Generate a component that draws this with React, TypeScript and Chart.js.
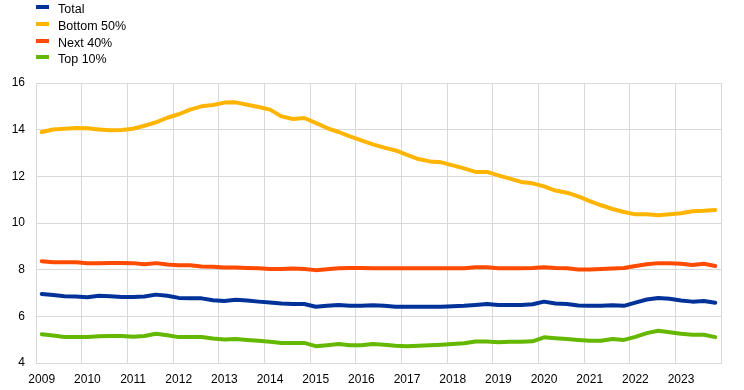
import React, { useEffect, useRef } from "react";
import { Chart, registerables } from "chart.js";

Chart.register(...registerables);

const years = [2009, 2010, 2011, 2012, 2013, 2014, 2015, 2016, 2017, 2018, 2019, 2020, 2021, 2022, 2023];
const quarters = ["Q1", "Q2", "Q3", "Q4"];
const categories: string[] = [];
years.forEach((y) => quarters.forEach((q) => categories.push(`${y}${q}`)));

const total = [
  6.96, 6.91, 6.86, 6.85, 6.82, 6.88, 6.86, 6.83, 6.83, 6.85,
  6.93, 6.88, 6.79, 6.78, 6.77, 6.69, 6.66, 6.71, 6.68, 6.63,
  6.59, 6.55, 6.53, 6.53, 6.41, 6.45, 6.49, 6.45, 6.45, 6.48,
  6.45, 6.41, 6.41, 6.41, 6.41, 6.41, 6.43, 6.45, 6.49, 6.53,
  6.49, 6.49, 6.49, 6.52, 6.63, 6.55, 6.53, 6.46, 6.45, 6.45,
  6.48, 6.45, 6.59, 6.72, 6.79, 6.75, 6.68, 6.63, 6.66, 6.58,
];
const bottom50 = [
  13.9, 14.01, 14.04, 14.07, 14.06, 14.01, 13.97, 13.99, 14.04, 14.17,
  14.31, 14.51, 14.66, 14.86, 15.0, 15.06, 15.16, 15.17, 15.07, 14.97,
  14.86, 14.57, 14.46, 14.5, 14.29, 14.07, 13.9, 13.71, 13.54, 13.37,
  13.23, 13.11, 12.92, 12.74, 12.64, 12.6, 12.47, 12.34, 12.19, 12.19,
  12.04, 11.9, 11.76, 11.7, 11.57, 11.39, 11.3, 11.14, 10.94, 10.76,
  10.6, 10.47, 10.37, 10.37, 10.33, 10.37, 10.42, 10.5, 10.52, 10.56,
];
const next40 = [
  8.36, 8.32, 8.32, 8.32, 8.28, 8.28, 8.29, 8.29, 8.28, 8.23,
  8.28, 8.22, 8.19, 8.19, 8.14, 8.13, 8.09, 8.09, 8.07, 8.06,
  8.03, 8.03, 8.05, 8.03, 7.98, 8.02, 8.06, 8.07, 8.07, 8.06,
  8.06, 8.06, 8.06, 8.06, 8.06, 8.06, 8.06, 8.06, 8.1, 8.1,
  8.06, 8.06, 8.06, 8.07, 8.1, 8.07, 8.06, 8.01, 8.01, 8.03,
  8.05, 8.07, 8.16, 8.23, 8.28, 8.28, 8.25, 8.2, 8.25, 8.16,
];
const top10 = [
  5.23, 5.18, 5.11, 5.11, 5.11, 5.15, 5.16, 5.16, 5.12, 5.16,
  5.25, 5.19, 5.11, 5.11, 5.11, 5.05, 5.01, 5.03, 4.99, 4.95,
  4.91, 4.86, 4.86, 4.86, 4.72, 4.76, 4.81, 4.76, 4.76, 4.81,
  4.78, 4.74, 4.72, 4.74, 4.76, 4.78, 4.81, 4.85, 4.92, 4.92,
  4.89, 4.91, 4.91, 4.93, 5.1, 5.06, 5.03, 4.99, 4.95, 4.95,
  5.03, 4.99, 5.12, 5.28, 5.38, 5.32, 5.25, 5.21, 5.21, 5.11,
];

const seriesNames = ["Total", "Bottom 50%", "Next 40%", "Top 10%"];
const seriesColors = ["#003299", "#FFB400", "#FF4B00", "#65B800"];
const seriesData = [total, bottom50, next40, top10];

const GRID = "#d9d9d9";
const FONT = "Arial, 'Liberation Sans', sans-serif";

export default function App() {
  const canvasRef = useRef<HTMLCanvasElement | null>(null);

  useEffect(() => {
    document.body.style.margin = "0";
    const canvas = canvasRef.current;
    if (!canvas) return;
    const chart = new Chart(canvas, {
      type: "line",
      data: {
        labels: categories,
        datasets: seriesNames.map((name, i) => ({
          label: name,
          data: seriesData[i],
          borderColor: seriesColors[i],
          backgroundColor: seriesColors[i],
          borderWidth: 4,
          pointRadius: 0,
          tension: 0,
          borderCapStyle: "round" as const,
          borderJoinStyle: "round" as const,
        })),
      },
      options: {
        responsive: false,
        animation: false,
        devicePixelRatio: 1,
        layout: { padding: { top: 83, right: 23, left: 0, bottom: 0 } },
        plugins: { legend: { display: false }, tooltip: { enabled: false } },
        scales: {
          x: {
            type: "category",
            offset: true,
            grid: {
              offset: true,
              drawTicks: false,
              color: (ctx: any) =>
                ctx.type !== "tick" || ctx.index % 4 === 0 ? GRID : "rgba(0,0,0,0)",
            },
            border: { color: GRID },
            ticks: {
              autoSkip: false,
              maxRotation: 0,
              minRotation: 0,
              padding: 9,
              color: "#000",
              font: { family: FONT, size: 12 },
              callback: (_v: any, i: number) => (i % 4 === 0 ? categories[i].slice(0, 4) : ""),
            },
            afterFit: (s: any) => {
              s.height = 27;
            },
          },
          y: {
            min: 4,
            max: 16,
            grid: { color: GRID, drawTicks: false },
            border: { color: GRID },
            ticks: {
              stepSize: 2,
              padding: 11,
              color: "#000",
              font: { family: FONT, size: 12 },
            },
            afterFit: (s: any) => {
              s.width = 36;
            },
          },
        },
      },
    });
    return () => chart.destroy();
  }, []);

  return (
    <div style={{ position: "fixed", left: 0, top: 0, width: 744, height: 390, background: "#fff" }}>
      <canvas ref={canvasRef} width={744} height={390} style={{ position: "absolute", left: 0, top: 0 }} />
      <div style={{ position: "absolute", left: 36, top: 1, fontFamily: FONT, fontSize: 12.5, color: "#000" }}>
        {seriesNames.map((name, i) => (
          <div key={name} style={{ display: "flex", alignItems: "center", height: 16.7 }}>
            <span
              style={{
                display: "inline-block",
                width: 13,
                height: 4,
                background: seriesColors[i],
                marginRight: 9,
                marginTop: -4,
              }}
            />
            <span>{name}</span>
          </div>
        ))}
      </div>
    </div>
  );
}
